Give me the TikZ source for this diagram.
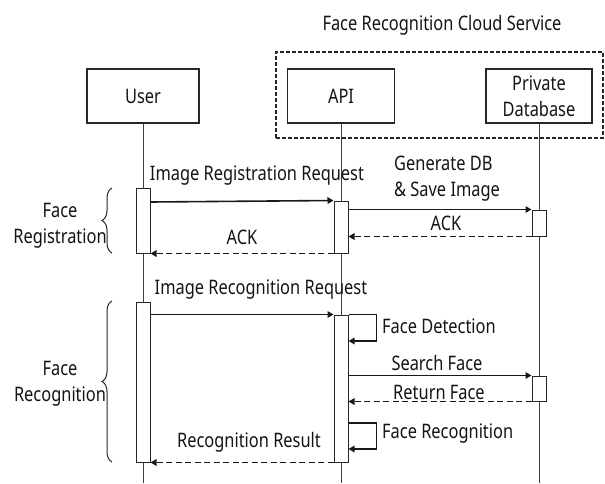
\documentclass[tikz,border=0pt]{standalone}
\usepackage{fontspec}
\setmainfont[FakeStretch=0.82]{Noto Sans}
\usetikzlibrary{arrows.meta,decorations.pathreplacing}
\begin{document}
\begin{tikzpicture}[x=1pt,y=-1pt,
  every node/.style={font=\fontsize{20}{26}\selectfont, text=black!92},
  actor/.style={draw=black!85, line width=1.4pt, minimum height=54pt, inner sep=0pt, align=center},
  bar/.style={draw=black!85, fill=white, line width=1pt, minimum width=14pt, inner sep=0pt},
  life/.style={line width=0.9pt, draw=black!75},
  msg/.style={line width=1.6pt, draw=black!90, -{Triangle[length=6pt,width=6.5pt]}},
  ret/.style={msg, dash pattern=on 6pt off 3.5pt},
  lbl/.style={inner sep=0pt, align=center},
  brc/.style={decorate, decoration={brace, amplitude=10pt}, line width=1pt, draw=black!85}
]
\useasboundingbox (0,0) rectangle (605,483);
% cloud group
\node[draw=black!85, line width=1.5pt, dash pattern=on 4pt off 2pt, minimum width=327pt, minimum height=86pt, inner sep=0pt] (cloud) at (439.5,95) {};
\node[lbl] (title) at (442,25) {Face Recognition Cloud Service};
% actors
\node[actor, minimum width=112pt] (user) at (143,96) {User};
\node[actor, minimum width=107pt] (api) at (341,96) {API};
\node[actor, minimum width=106pt] (db) at (539,96) {Private\\Database};
% lifelines
\coordinate (ue) at (143,483);
\coordinate (ae) at (341,483);
\coordinate (de) at (539,483);
\draw[life] (user.south) -- (ue);
\draw[life] (api.south) -- (ae);
\draw[life] (db.south) -- (de);
% activation bars
\node[bar, minimum height=65pt] (ub1) at (143,220.5) {};
\node[bar, minimum height=52pt] (ab1) at (341,227) {};
\node[bar, minimum height=26pt] (db1) at (539,223) {};
\node[bar, minimum height=160pt] (ub2) at (143,382) {};
\node[bar, minimum height=147pt] (ab2) at (341,388.5) {};
\node[bar, minimum height=25pt] (db2) at (539,388.5) {};
% registration
\draw[msg] (ub1.east |- 0,202) -- (ab1.north west);
\node[lbl] (l1) at (257,176) {Image Registration Request};
\draw[msg] (ab1.east |- db1.north) -- (db1.north west);
\node[lbl, align=left, anchor=west] (l2) at (394,179) {Generate DB\\\& Save Image};
\draw[ret] (db1.south west) -- (ab1.east |- db1.south);
\node[lbl] (l3) at (446,223) {ACK};
\draw[ret] (ab1.south west) -- (ub1.south east);
\node[lbl] (l4) at (242,237) {ACK};
\draw[brc] (112,253) -- (112,188);
\node[lbl] (g1) at (60,226) {Face\\Registration};
% recognition
\draw[msg] (ub2.east |- ab2.north) -- (ab2.north west);
\node[lbl] (l5) at (261,290) {Image Recognition Request};
\draw[msg] (ab2.north east) -- ++(28,0) |- (ab2.east |- 0,341);
\node[lbl, anchor=west] (l6) at (382,326) {Face Detection};
\draw[msg] (ab2.east |- db2.north) -- (db2.north west);
\node[lbl] (l7) at (437,363) {Search Face};
\draw[ret] (db2.south west) -- (ab2.east |- db2.south);
\node[lbl] (l8) at (439,392) {Return Face};
\draw[msg] (ab2.east |- 0,423) -- ++(28,0) |- (ab2.east |- 0,449);
\node[lbl, anchor=west] (l9) at (382,434) {Face Recognition};
\draw[ret] (ab2.south west) -- (ub2.south east);
\node[lbl] (l10) at (249,442) {Recognition Result};
\draw[brc] (112,462) -- (112,301);
\node[lbl] (g2) at (60,384) {Face\\Recognition};
\end{tikzpicture}
\end{document}
